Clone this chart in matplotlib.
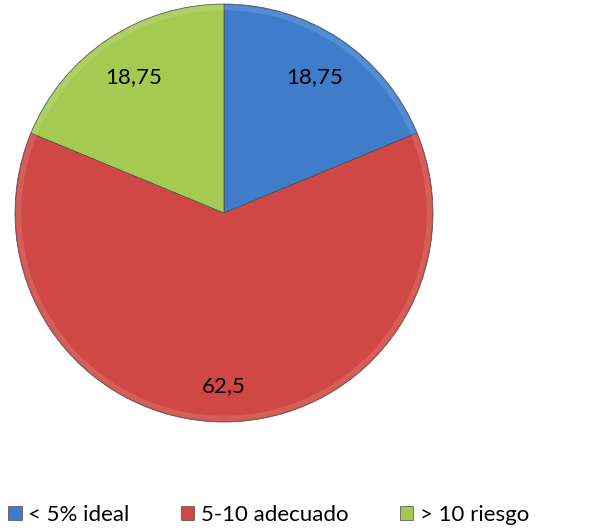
import matplotlib
matplotlib.use('Agg')
import matplotlib.pyplot as plt
import numpy as np

categories = ['< 5% ideal', '5-10 adecuado', '> 10 riesgo']
values = [18.75, 62.5, 18.75]
value_labels = ['18,75', '62,5', '18,75']
colors = ['#3F7DCB', '#D04845', '#A5CA52']
label_dist = [0.78, 0.83, 0.78]

plt.rcParams['font.family'] = ['Lato', 'DejaVu Sans']

fig = plt.figure(figsize=(5.96, 5.29), dpi=100)
ax = fig.add_axes([15 / 596, 1 - 422 / 529, 418 / 596, 418 / 529])

wedges, _ = ax.pie(values, colors=colors, startangle=90, counterclock=False,
                   radius=1, wedgeprops=dict(edgecolor='#4a4a4a', linewidth=0.5))

# soft rim highlight on each slice
for w in wedges:
    ax.add_patch(matplotlib.patches.Wedge((0, 0), 0.995, w.theta1, w.theta2, width=0.025,
                                          facecolor='white', alpha=0.12, edgecolor='none'))

for w, txt, d in zip(wedges, value_labels, label_dist):
    ang = np.deg2rad((w.theta1 + w.theta2) / 2)
    ax.text(d * np.cos(ang), d * np.sin(ang), txt, ha='center', va='center',
            fontsize=16, color='black')

ax.set_xlim(-1, 1)
ax.set_ylim(-1, 1)
ax.set_aspect('equal')
ax.axis('off')

leg = fig.legend(wedges, categories, loc='center left', bbox_to_anchor=(0.013, 1 - 515 / 529),
                 ncol=3, frameon=False, fontsize=16, handlelength=0.62, handleheight=0.62,
                 handletextpad=0.3, columnspacing=2.3, borderaxespad=0, borderpad=0.0)

fig.savefig('out.png', dpi=100)
